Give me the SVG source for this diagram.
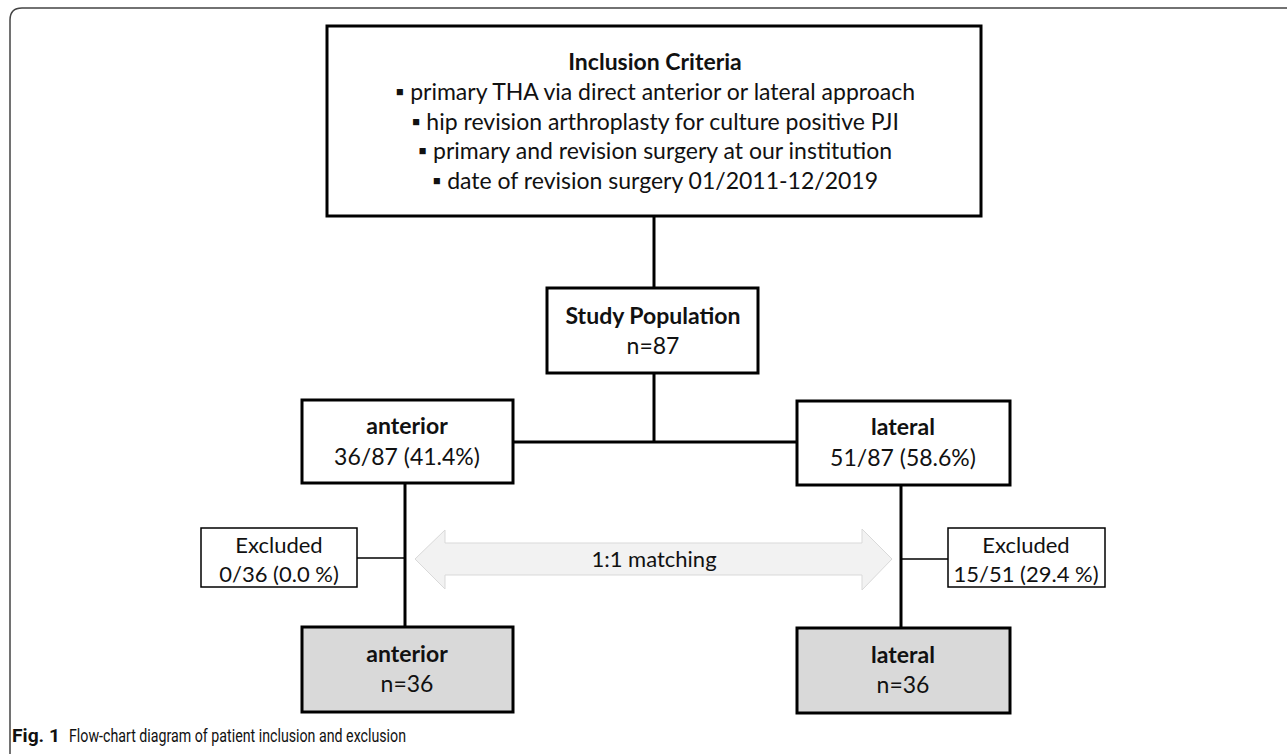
<svg xmlns="http://www.w3.org/2000/svg" width="1287" height="754" viewBox="0 0 1287 754">
<style>
.box{fill:#ffffff;stroke:#000000;stroke-width:3}
.gbox{fill:#d9d9d9;stroke:#000000;stroke-width:3}
.xbox{fill:#ffffff;stroke:#000000;stroke-width:1.5}
.t{font-family:Lato,"Liberation Sans",sans-serif;font-size:23px;fill:#111111;text-anchor:middle}
.s{font-size:22px}
.b{font-weight:bold}
.ln{stroke:#000000;stroke-width:3;fill:none}
.thin{stroke:#000000;stroke-width:1.5;fill:none}
.cap{font-family:Roboto,"Liberation Sans",sans-serif;font-size:18px;fill:#111111}
</style>
<rect width="1287" height="754" fill="#ffffff"/>
<path d="M10,754 V20 Q10,8 22,8 H1287" fill="none" stroke="#444444" stroke-width="1.5"/>
<g id="connectors">
<path class="ln" d="M654,216 V288"/>
<path class="ln" d="M654,373 V442 M513,442 H798"/>
<path class="ln" d="M405,483 V627"/>
<path class="ln" d="M901,485 V628"/>
<path class="thin" d="M357,558 H405"/>
<path class="thin" d="M901,559 H948"/>
</g>
<g id="matching">
<path d="M415,559 L445,530 V543 H862 V529 L892,559 L862,590 V575 H445 V589 Z" fill="#f2f2f2" stroke="#d9d9d9" stroke-width="1"/>
<text class="t s" x="654" y="567">1:1 matching</text>
</g>
<g id="inclusion">
<rect class="box" x="327" y="26" width="654" height="190"/>
<text class="t b" x="655" y="70">Inclusion Criteria</text>
<text class="t" x="655" y="100">▪ primary THA via direct anterior or lateral approach</text>
<text class="t" x="655" y="130">▪ hip revision arthroplasty for culture positive PJI</text>
<text class="t" x="655" y="159">▪ primary and revision surgery at our institution</text>
<text class="t" x="655" y="189">▪ date of revision surgery 01/2011-12/2019</text>
</g>
<g id="study">
<rect class="box" x="547" y="288" width="211" height="85"/>
<text class="t b" x="653" y="324">Study Population</text>
<text class="t" x="653" y="354">n=87</text>
</g>
<g id="anterior">
<rect class="box" x="302" y="400" width="211" height="83"/>
<text class="t b" x="407" y="434">anterior</text>
<text class="t" x="407" y="465">36/87 (41.4%)</text>
</g>
<g id="lateral">
<rect class="box" x="797" y="401" width="213" height="84"/>
<text class="t b" x="903" y="435">lateral</text>
<text class="t" x="903" y="466">51/87 (58.6%)</text>
</g>
<g id="excluded-anterior">
<rect class="xbox" x="201" y="528" width="156" height="59"/>
<text class="t s" x="279" y="553">Excluded</text>
<text class="t s" x="279" y="582">0/36 (0.0 %)</text>
</g>
<g id="excluded-lateral">
<rect class="xbox" x="948" y="528" width="157" height="59"/>
<text class="t s" x="1026" y="553">Excluded</text>
<text class="t s" x="1026" y="582">15/51 (29.4 %)</text>
</g>
<g id="anterior-final">
<rect class="gbox" x="302" y="627" width="211" height="85"/>
<text class="t b" x="407" y="662">anterior</text>
<text class="t" x="407" y="692">n=36</text>
</g>
<g id="lateral-final">
<rect class="gbox" x="797" y="628" width="213" height="85"/>
<text class="t b" x="903" y="663">lateral</text>
<text class="t" x="903" y="693">n=36</text>
</g>
<g id="caption">
<text class="cap" x="12" y="742" font-weight="bold" textLength="48" lengthAdjust="spacingAndGlyphs">Fig. 1</text>
<text class="cap" x="69" y="742" textLength="337" lengthAdjust="spacingAndGlyphs">Flow-chart diagram of patient inclusion and exclusion</text>
</g>
</svg>
